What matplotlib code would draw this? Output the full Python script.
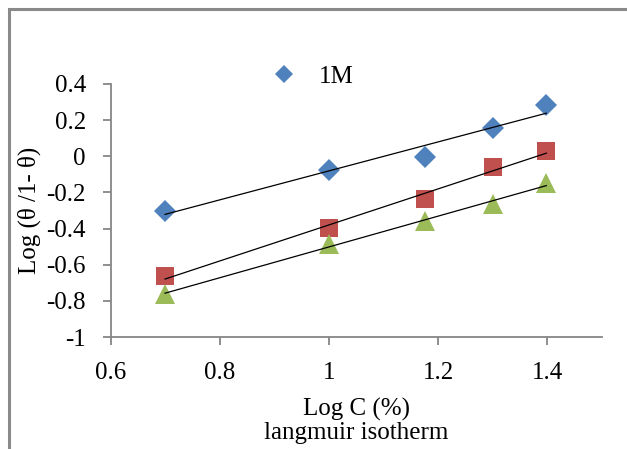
import numpy as np
import matplotlib
matplotlib.use("Agg")
import matplotlib.pyplot as plt
from matplotlib.patches import Rectangle

# Data
log_c = [0.699, 1.0, 1.176, 1.301, 1.398]
series_1m = [-0.303, -0.076, -0.004, 0.157, 0.284]
series_red = [-0.662, -0.397, -0.236, -0.059, 0.029]
series_green = [-0.762, -0.485, -0.358, -0.264, -0.148]
x_ticks = [0.6, 0.8, 1.0, 1.2, 1.4]
x_tick_labels = ["0.6", "0.8", "1", "1.2", "1.4"]
y_ticks = [-1.0, -0.8, -0.6, -0.4, -0.2, 0.0, 0.2, 0.4]
y_tick_labels = ["-1", "-0.8", "-0.6", "-0.4", "-0.2", "0", "0.2", "0.4"]

plt.rcParams['font.family'] = ['Liberation Serif', 'DejaVu Serif']

fig = plt.figure(figsize=(6.27, 4.49), dpi=100)
ax = fig.add_axes([111/627, (449-337)/449, (602-111)/627, 253/449])

# outer border (top and left visible)
fig.add_artist(Rectangle((9/627, -0.1), 1.2, (449-9)/449 + 0.1, transform=fig.transFigure,
                         fill=False, edgecolor='#8a8a8a', linewidth=2.2))

gray = '#868686'
styles = [
    (series_1m, 'D', '#4F81BD', 11, '1M'),
    (series_red, 's', '#C0504D', 13, None),
    (series_green, '^', '#9BBB59', 14, None),
]
x = np.array(log_c)
for ys, mk, col, ms, lab in styles:
    ax.plot(x, ys, linestyle='none', marker=mk, color=col, markersize=ms,
            markeredgewidth=0, label=lab, zorder=3)
    k, b = np.polyfit(x, ys, 1)
    ax.plot(x[[0, -1]], k * x[[0, -1]] + b, color='black', linewidth=0.9, zorder=4)

ax.set_xlim(0.6, 1.5)
ax.set_ylim(-1.0, 0.4)
ax.set_xticks(x_ticks)
ax.set_xticklabels(x_tick_labels)
ax.set_yticks(y_ticks)
ax.set_yticklabels(y_tick_labels)
for s in ['top', 'right']:
    ax.spines[s].set_visible(False)
for s in ['left', 'bottom']:
    ax.spines[s].set_color(gray)
    ax.spines[s].set_linewidth(1.3)
ax.tick_params(axis='both', direction='out', length=6, width=1.3, color=gray,
               labelsize=18, pad=12)

ax.set_xlabel("Log C (%)\nlangmuir isotherm", fontsize=18, linespacing=1.05, labelpad=10)
ax.set_ylabel("Log (θ /1- θ)", fontsize=18)

leg = ax.legend(loc='center left', bbox_to_anchor=(0.326, 1.030), frameon=False,
                fontsize=18, handletextpad=0.9, markerscale=0.85, handlelength=1.0,
                borderaxespad=0, borderpad=0)

fig.savefig("out.png", dpi=100)
